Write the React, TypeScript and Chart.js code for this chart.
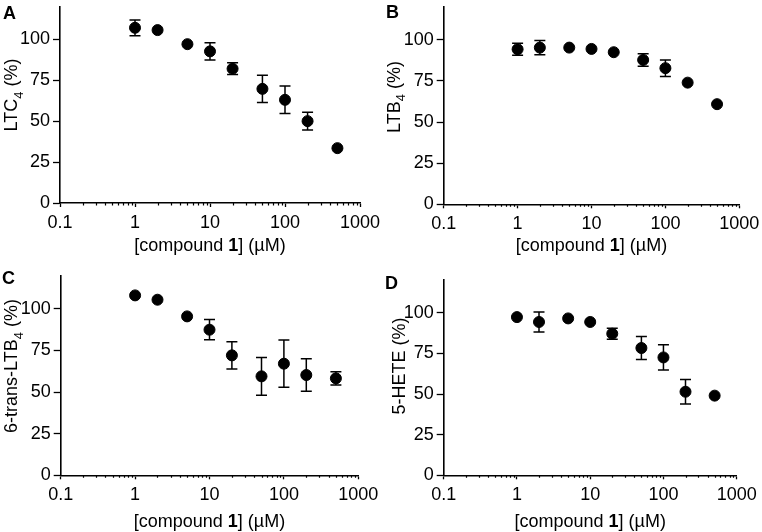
import React, { useEffect, useRef } from "react";
import { Chart, registerables } from "chart.js";

Chart.register(...registerables);

// ---------------- data ----------------
const concentrations = [1, 2, 5, 10, 20, 50, 100, 200, 500];

const ltc4Mean = [107, 105.6, 97, 92.6, 82, 69.7, 63, 50, 33.5];
const ltc4Err = [4.8, 0, 0, 5.2, 3.6, 8.3, 8.4, 5.4, 0];

const ltb4Mean = [94.3, 95.3, 95.3, 94.5, 92.5, 87.8, 82.8, 74, 60.9];
const ltb4Err = [3.7, 4.3, 0, 0, 0, 3.8, 5, 0, 0];

const transLtb4Mean = [108, 105.4, 95.4, 87.4, 72, 59.4, 67, 60.2, 58.2];
const transLtb4Err = [0, 0, 0, 6.1, 8.2, 11.3, 14.2, 9.8, 4];

const hete5Mean = [97.3, 94.3, 96.5, 94.3, 87.1, 78.3, 72.5, 51.4, 49];
const hete5Err = [0, 6.2, 0, 0, 3.4, 7, 7.8, 7.6, 0];

const yTicks = [0, 25, 50, 75, 100];
const xMajorTicks = [0.1, 1, 10, 100, 1000];
const xMinorMultipliers = [2, 3, 4, 5, 6, 7, 8, 9];
const xTickLabels = ["0.1", "1", "10", "100", "1000"];

// ---------------- styling ----------------
const FONT = '"Liberation Sans", Arial, Helvetica, sans-serif';
const SIZE = 18;

type Run = { text: string; bold?: boolean; sub?: boolean };

const xTitleRuns: Run[] = [
  { text: "[compound " },
  { text: "1", bold: true },
  { text: "] (\u00B5M)" },
];

type PanelCfg = {
  letter: string;
  yTitle: Run[];
  means: number[];
  errors: number[];
  pageX: number;
  pageY: number;
  area: { l: number; t: number; r: number; b: number };
  letterPos: [number, number];
  yTitlePos: [number, number];
  xTitleBaseline: number;
};

const W = 381;
const H = 266;

const panels: PanelCfg[] = [
  {
    letter: "A",
    yTitle: [{ text: "LTC" }, { text: "4", sub: true }, { text: " (%)" }],
    means: ltc4Mean,
    errors: ltc4Err,
    pageX: 0,
    pageY: 0,
    area: { l: 60, t: 2.6, r: 360, b: 203 },
    letterPos: [3, 19],
    yTitlePos: [11, 95],
    xTitleBaseline: 251,
  },
  {
    letter: "B",
    yTitle: [{ text: "LTB" }, { text: "4", sub: true }, { text: " (%)" }],
    means: ltb4Mean,
    errors: ltb4Err,
    pageX: 381,
    pageY: 0,
    area: { l: 62.7, t: 7, r: 358.3, b: 204.3 },
    letterPos: [5, 18],
    yTitlePos: [12.5, 97],
    xTitleBaseline: 251,
  },
  {
    letter: "C",
    yTitle: [{ text: "6-trans-LTB" }, { text: "4", sub: true }, { text: " (%)" }],
    means: transLtb4Mean,
    errors: transLtb4Err,
    pageX: 0,
    pageY: 266,
    area: { l: 60.7, t: 9.4, r: 358.3, b: 209.3 },
    letterPos: [2, 18],
    yTitlePos: [11, 100],
    xTitleBaseline: 261,
  },
  {
    letter: "D",
    yTitle: [{ text: "5-HETE (%)" }],
    means: hete5Mean,
    errors: hete5Err,
    pageX: 381,
    pageY: 266,
    area: { l: 62.7, t: 14.2, r: 355.7, b: 209.3 },
    letterPos: [4, 23],
    yTitlePos: [17.5, 100],
    xTitleBaseline: 261,
  },
];

function allXTicks(): number[] {
  const out: number[] = [];
  for (let i = 0; i < xMajorTicks.length; i++) {
    const d = xMajorTicks[i];
    out.push(d);
    if (i < xMajorTicks.length - 1) {
      for (const m of xMinorMultipliers) out.push(d * m);
    }
  }
  return out;
}

function isMajor(v: number): boolean {
  return xMajorTicks.some((m) => Math.abs(m - v) / m < 1e-9);
}

function majorLabel(v: number): string {
  const i = xMajorTicks.findIndex((m) => Math.abs(m - v) / m < 1e-9);
  return i >= 0 ? xTickLabels[i] : "";
}

function runFont(r: Run, size: number) {
  const s = r.sub ? Math.round(size * 0.72) : size;
  return `${r.bold ? "bold " : ""}${s}px ${FONT}`;
}

function drawRuns(ctx: CanvasRenderingContext2D, runs: Run[], cx: number, baseline: number, size: number) {
  let total = 0;
  for (const r of runs) {
    ctx.font = runFont(r, size);
    total += ctx.measureText(r.text).width;
  }
  let x = cx - total / 2;
  ctx.textAlign = "left";
  ctx.textBaseline = "alphabetic";
  for (const r of runs) {
    ctx.font = runFont(r, size);
    ctx.fillText(r.text, x, baseline + (r.sub ? size * 0.28 : 0));
    x += ctx.measureText(r.text).width;
  }
}

function Panel({ cfg }: { cfg: PanelCfg }) {
  const ref = useRef<HTMLCanvasElement>(null);

  useEffect(() => {
    const canvas = ref.current;
    if (!canvas) return;
    const xTicksAll = allXTicks();

    const errorBars = {
      id: "errorBars",
      beforeDatasetsDraw(chart: any) {
        const { ctx } = chart;
        const xs = chart.scales.x;
        const ys = chart.scales.y;
        ctx.save();
        ctx.strokeStyle = "#000";
        ctx.lineWidth = 1.5;
        concentrations.forEach((c, i) => {
          const e = cfg.errors[i];
          if (!e) return;
          const px = xs.getPixelForValue(c);
          const top = ys.getPixelForValue(cfg.means[i] + e);
          const bot = ys.getPixelForValue(cfg.means[i] - e);
          const hw = 5.5;
          ctx.beginPath();
          ctx.moveTo(px, top);
          ctx.lineTo(px, bot);
          ctx.moveTo(px - hw, top);
          ctx.lineTo(px + hw, top);
          ctx.moveTo(px - hw, bot);
          ctx.lineTo(px + hw, bot);
          ctx.stroke();
        });
        ctx.restore();
      },
    };

    const decorations = {
      id: "decorations",
      afterDraw(chart: any) {
        const { ctx, chartArea } = chart;
        const xs = chart.scales.x;
        ctx.save();
        ctx.fillStyle = "#000";
        ctx.strokeStyle = "#000";
        // minor ticks on x axis
        ctx.lineWidth = 1.2;
        ctx.beginPath();
        for (const v of xTicksAll) {
          if (isMajor(v)) continue;
          const px = Math.round(xs.getPixelForValue(v)) + 0.5;
          ctx.moveTo(px, chartArea.bottom);
          ctx.lineTo(px, chartArea.bottom + 2.5);
        }
        ctx.stroke();
        // panel letter
        ctx.font = `bold ${SIZE}px ${FONT}`;
        ctx.textAlign = "left";
        ctx.textBaseline = "alphabetic";
        ctx.fillText(cfg.letter, cfg.letterPos[0], cfg.letterPos[1]);
        // x title
        drawRuns(ctx, xTitleRuns, (chartArea.left + chartArea.right) / 2, cfg.xTitleBaseline, SIZE);
        // y title
        ctx.translate(cfg.yTitlePos[0], cfg.yTitlePos[1]);
        ctx.rotate(-Math.PI / 2);
        drawRuns(ctx, cfg.yTitle, 0, SIZE * 0.36, SIZE);
        ctx.restore();
      },
    };

    const chart = new Chart(canvas, {
      type: "scatter",
      data: {
        datasets: [
          {
            data: concentrations.map((c, i) => ({ x: c, y: cfg.means[i] })),
            pointRadius: 5.5,
            pointBorderWidth: 1,
            pointBackgroundColor: "#000",
            pointBorderColor: "#000",
            showLine: false,
          },
        ],
      },
      options: {
        animation: false,
        responsive: false,
        events: [],
        layout: {
          padding: { left: 0, top: cfg.area.t, right: W - cfg.area.r, bottom: 0 },
        },
        plugins: {
          legend: { display: false },
          tooltip: { enabled: false },
        },
        scales: {
          x: {
            type: "logarithmic",
            min: 0.1,
            max: 1000,
            afterBuildTicks: (s: any) => {
              s.ticks = xTicksAll.map((v) => ({ value: v, major: isMajor(v) }));
            },
            afterFit: (s: any) => {
              s.height = H - cfg.area.b;
              s.paddingLeft = 0;
              s.paddingRight = 0;
              s.paddingTop = 0;
              s.paddingBottom = 0;
            },
            grid: {
              display: true,
              drawOnChartArea: false,
              drawTicks: true,
              tickLength: 4,
              tickWidth: 1.3,
              tickColor: (ctx: any) =>
                ctx.tick && isMajor(ctx.tick.value) ? "#000" : "rgba(0,0,0,0)",
              color: "rgba(0,0,0,0)",
            },
            border: { display: true, color: "#000", width: 1.6 },
            ticks: {
              autoSkip: false,
              maxRotation: 0,
              minRotation: 0,
              padding: 5,
              color: "#000",
              font: { family: FONT, size: SIZE },
              callback: (v: any) => majorLabel(Number(v)),
            },
          },
          y: {
            type: "linear",
            min: 0,
            max: 120,
            afterBuildTicks: (s: any) => {
              s.ticks = yTicks.map((v) => ({ value: v }));
            },
            afterFit: (s: any) => {
              s.width = cfg.area.l;
              s.paddingLeft = 0;
              s.paddingRight = 0;
              s.paddingTop = 0;
              s.paddingBottom = 0;
            },
            grid: {
              display: true,
              drawOnChartArea: false,
              drawTicks: true,
              tickLength: 7,
              tickWidth: 1.3,
              tickColor: "#000",
              color: "#000",
            },
            border: { display: true, color: "#000", width: 1.6 },
            ticks: {
              padding: 3,
              color: "#000",
              font: { family: FONT, size: SIZE },
              callback: (v: any) => String(v),
            },
          },
        },
      },
      plugins: [errorBars, decorations],
    } as any);

    return () => chart.destroy();
  }, [cfg]);

  return (
    <div style={{ position: "absolute", left: cfg.pageX, top: cfg.pageY, width: W, height: H }}>
      <canvas ref={ref} width={W} height={H} style={{ display: "block", width: W, height: H }} />
    </div>
  );
}

export default function App() {
  return (
    <div style={{ position: "absolute", left: 0, top: 0, width: 762, height: 532, background: "#fff" }}>
      {panels.map((p) => (
        <Panel key={p.letter} cfg={p} />
      ))}
    </div>
  );
}
